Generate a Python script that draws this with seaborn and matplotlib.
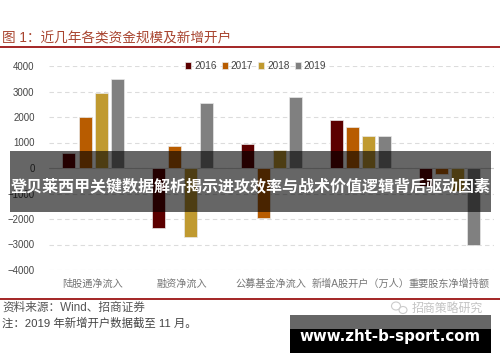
import matplotlib
matplotlib.use("Agg")
import matplotlib.pyplot as plt
from matplotlib.patches import Rectangle, Ellipse
import pandas as pd
import seaborn as sns

categories = ["陆股通净流入", "融资净流入", "公募基金净流入", "新增A股开户（万人）", "重要股东净增持额"]
years = ["2016", "2017", "2018", "2019"]
v2016 = [600, -2350, 950, 1900, -700]
v2017 = [2000, 850, -1950, 1600, -230]
v2018 = [2950, -2700, 700, 1250, -900]
v2019 = [3500, 2550, 2800, 1250, -3000]
colors = ["#5c0000", "#b85c00", "#c09a30", "#808080"]
yticks = [4000, 3000, 2000, 1000, 0, -1000, -2000, -3000, -4000]

sns.set_theme(style="white")
plt.rcParams["font.family"] = ["Liberation Sans", "Noto Sans CJK SC", "DejaVu Sans"]
W, H = 500, 362

df = pd.DataFrame({
    "cat": categories * 4,
    "year": sum([[y] * 5 for y in years], []),
    "val": v2016 + v2017 + v2018 + v2019,
})

fig = plt.figure(figsize=(5, 3.62), dpi=100, facecolor="white")
ax = fig.add_axes([48.5 / W, 1 - 270 / H, (494 - 48.5) / W, (270 - 66) / H])
sns.barplot(data=df, x="cat", y="val", hue="year", order=categories, hue_order=years,
            palette=colors, width=0.72, gap=0.19, saturation=1, ax=ax,
            edgecolor="#e8e8e8", linewidth=0.5, errorbar=None, zorder=3)
ax.set_ylim(-4000, 4000)
ax.set_xlim(-0.5, 4.5)
ax.set_xlabel("")
ax.set_ylabel("")
ax.set_yticks(yticks)
ax.set_yticklabels([str(t).replace("-", "−") for t in yticks], fontsize=6.9, color="#444444")
ax.tick_params(axis="y", length=0, pad=10)
ax.tick_params(axis="x", length=0, pad=6.5)
ax.set_xticks(range(5))
ax.set_xticklabels(categories, fontsize=7.3, color="#777777")
ax.grid(axis="y", color="#dcdcdc", linestyle=(0, (4, 3)), linewidth=0.8, zorder=0)
ax.set_axisbelow(True)
ax.axhline(0, color="#cccccc", linewidth=0.8, zorder=1)
for s in ax.spines.values():
    s.set_visible(False)

leg = ax.legend(loc="upper center", bbox_to_anchor=(0.465, 1.05), ncol=4, frameon=False,
                fontsize=7.2, handlelength=0.6, handleheight=0.7, handletextpad=0.3,
                columnspacing=0.5, borderpad=0, title=None)
for t in leg.get_texts():
    t.set_color("#444444")

def ftext(x, y, s, **kw):
    fig.text(x / W, 1 - y / H, s, va="center", **kw)

def frect(x0, y0, x1, y1, **kw):
    fig.add_artist(Rectangle((x0 / W, 1 - y1 / H), (x1 - x0) / W, (y1 - y0) / H,
                             transform=fig.transFigure, linewidth=0, **kw))

ftext(2, 38.5, "图 1：近几年各类资金规模及新增开户", fontsize=9.8, color="#a8442f")
frect(0, 46.2, 500, 47.8, color="#a52a2a")
frect(0, 298.3, 500, 299.8, color="#a52a2a")
ftext(2, 308, "资料来源：Wind、招商证券", fontsize=8.4, color="#555555")
ftext(2, 323, "注：2019 年新增开户数据截至 11 月。", fontsize=8.2, color="#444444")
ftext(412, 309, "招商策略研究", fontsize=8.6, color="#c4c4c4")
for x, y, w, h in [(396, 306, 9, 8), (403, 310, 8, 7)]:
    fig.add_artist(Ellipse((x / W, 1 - y / H), w / W, h / H, transform=fig.transFigure,
                           fill=False, edgecolor="#cccccc", linewidth=0.8))

# banner overlays
frect(10, 151, 491, 212, color="black", alpha=0.6, zorder=10)
ftext(250.5, 186, "登贝莱西甲关键数据解析揭示进攻效率与战术价值逻辑背后驱动因素",
      ha="center", fontsize=11.55, color="white", fontweight="bold", zorder=11)
frect(290, 315, 491, 329, color="#666666", zorder=10)
frect(290, 329, 491, 353, color="black", zorder=10)
ftext(390, 337, "www.zht-b-sport.com", ha="center", fontsize=10.8, color="white",
      fontweight="bold", family="DejaVu Sans", zorder=11)

fig.savefig("out.png", dpi=100, facecolor="white")
